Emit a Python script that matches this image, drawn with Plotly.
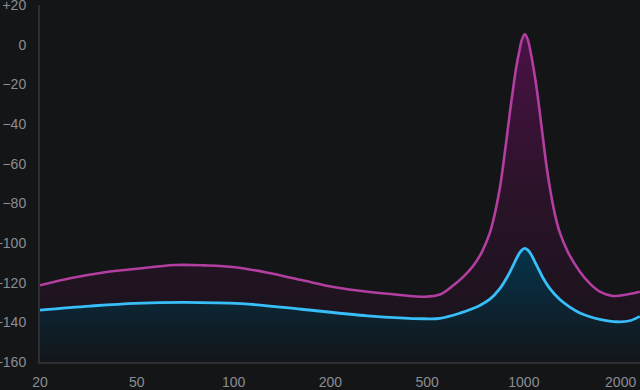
import numpy as np
import plotly.graph_objects as go

# ---- tick definitions ----
tick_freqs = [20, 50, 100, 200, 500, 1000, 2000]
tick_labels = ["20", "50", "100", "200", "500", "1000", "2000"]
y_tick_vals = [20, 0, -20, -40, -60, -80, -100, -120, -140, -160]
y_tick_labels = ["+20", "0", "\u221220", "\u221240", "\u221260", "\u221280",
                 "\u2212100", "\u2212120", "\u2212140", "\u2212160"]

# ---- series A (magenta) ----
freq_a = [20, 26.6, 35.9, 49.1, 65.7, 81.5, 101, 127.9, 162.8, 209, 285, 387,
          489, 548, 601, 650, 695, 740, 784, 812, 842, 863, 883, 904.6, 927,
          947, 967, 985.6, 1007, 1029, 1049, 1070, 1095, 1121, 1148, 1174,
          1205, 1248, 1294, 1371, 1494, 1605, 1723, 1891, 2090, 2294]
level_a = [-121.3, -117.8, -115.0, -113.1, -111.1, -111.3, -112.2, -115.0,
           -118.7, -122.3, -124.6, -126.2, -127.1, -126.0, -121.6, -116.8,
           -111.6, -104.6, -94.8, -85.3, -72.3, -60.3, -47.8, -34.3, -21.6,
           -11.3, -3.6, 2.4, 5.2, 2.4, -3.6, -11.3, -21.6, -34.3, -47.8,
           -60.3, -72.3, -85.3, -94.8, -104.6, -114.5, -120.5, -124.5, -126.7,
           -126.0, -124.6]

# ---- series B (cyan) ----
freq_b = [20, 32.1, 49.1, 70.6, 106.2, 162.8, 285, 489, 548, 632, 694, 729,
          784, 842, 885, 927, 965, 985.6, 1007, 1029, 1051, 1095, 1146, 1205,
          1294, 1390, 1494, 1605, 1723, 1943, 2136, 2294]
level_b = [-133.8, -131.8, -130.4, -129.9, -130.6, -133.4, -136.7, -138.2,
           -138.0, -135.4, -133.0, -131.5, -128.3, -123.0, -117.5, -111.2,
           -105.5, -103.6, -102.7, -103.6, -105.5, -111.2, -117.5, -123.0,
           -128.5, -132.3, -135.3, -137.2, -138.5, -139.7, -139.2, -137.0]

Y_MIN, Y_MAX = -160, 20


def to_pos(f):
    """Map frequency onto the evenly spaced tick positions (piecewise log)."""
    lf = np.log(np.asarray(f, dtype=float))
    lt = np.log(np.asarray(tick_freqs, dtype=float))
    idx = np.arange(len(tick_freqs), dtype=float)
    pos = np.interp(lf, lt, idx)
    hi = lf > lt[-1]
    pos[hi] = idx[-1] + (lf[hi] - lt[-1]) / (lt[-1] - lt[-2])
    return pos


xa = to_pos(freq_a)
xb = to_pos(freq_b)

fig = go.Figure()

# baseline + magenta filled curve
fig.add_trace(go.Scatter(x=xa, y=[Y_MIN] * len(xa), mode="lines",
                         line=dict(width=0, color="rgba(0,0,0,0)"),
                         hoverinfo="skip", showlegend=False))
fig.add_trace(go.Scatter(
    x=xa, y=level_a, mode="lines", fill="tonexty",
    line=dict(color="rgb(178,62,160)", width=2.6, shape="spline", smoothing=1.0),
    fillgradient=dict(type="vertical",
                      colorscale=[[0, "rgb(22,20,25)"], [0.5, "rgb(42,19,40)"],
                                  [1, "rgb(74,17,70)"]],
                      start=Y_MIN, stop=max(level_a)),
    showlegend=False))

# baseline + cyan filled curve
fig.add_trace(go.Scatter(x=xb, y=[Y_MIN] * len(xb), mode="lines",
                         line=dict(width=0, color="rgba(0,0,0,0)"),
                         hoverinfo="skip", showlegend=False))
fig.add_trace(go.Scatter(
    x=xb, y=level_b, mode="lines", fill="tonexty",
    line=dict(color="rgb(56,190,248)", width=2.8, shape="spline", smoothing=1.0),
    fillgradient=dict(type="vertical",
                      colorscale=[[0, "rgb(19,22,26)"], [1, "rgb(6,52,76)"]],
                      start=Y_MIN, stop=max(level_b)),
    showlegend=False))

bg = "#141517"
axis_font = dict(family="Liberation Sans, Arial, sans-serif", size=14,
                 color="#8a8d93")

fig.update_layout(
    width=640, height=390,
    paper_bgcolor=bg, plot_bgcolor=bg,
    margin=dict(l=40, r=0, t=5, b=28, autoexpand=False),
    showlegend=False,
    xaxis=dict(range=[0, 6.2], tickvals=list(range(len(tick_freqs))),
               ticktext=tick_labels, showgrid=False, zeroline=False,
               showline=True, linecolor="#2c2e31", linewidth=2,
               ticks="", tickfont=axis_font, ticklabelstandoff=6,
               ticklabeloverflow="allow", fixedrange=True),
    yaxis=dict(range=[Y_MIN, Y_MAX], tickvals=y_tick_vals,
               ticktext=y_tick_labels, showgrid=False, zeroline=False,
               showline=True, linecolor="#2c2e31", linewidth=2,
               ticks="", tickfont=axis_font, ticklabelstandoff=9,
               ticklabeloverflow="allow", fixedrange=True),
)

fig.write_html("out.html", config={"displayModeBar": False},
               post_script="document.body.style.margin='0';"
                           "document.body.style.background='#141517';")
